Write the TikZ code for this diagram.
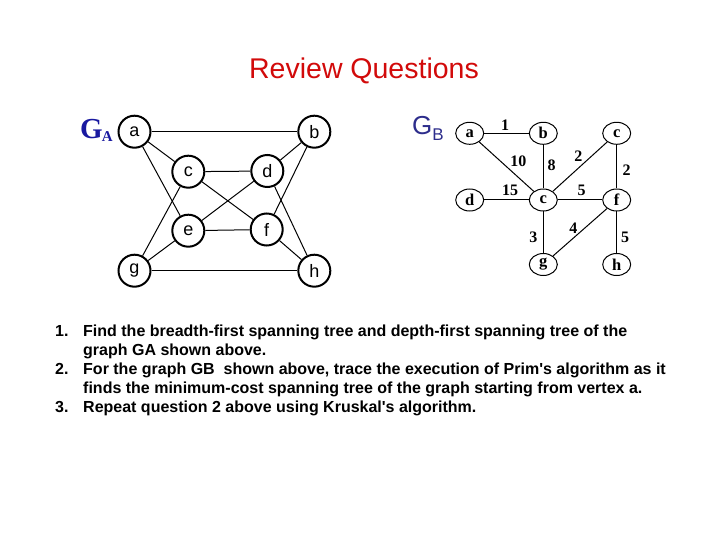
\documentclass[tikz,border=0pt]{standalone}
\usepackage{fontspec}
\setmainfont{Liberation Sans}
\newfontfamily\serifb{Liberation Serif}
\newfontfamily\bodyfont{Liberation Sans}
\usetikzlibrary{shapes.geometric}
\definecolor{titlered}{RGB}{210,10,10}
\definecolor{gablue}{RGB}{25,25,160}
\definecolor{gbblue}{RGB}{45,45,140}
\begin{document}
\begin{tikzpicture}[x=1pt,y=-1pt,
  ga/.style={circle,draw,line width=2pt,minimum size=32pt,inner sep=0pt,font=\fontsize{18}{18}\selectfont},
  gb/.style={ellipse,draw,line width=1pt,minimum width=28pt,minimum height=22pt,inner sep=0pt,font=\serifb\bfseries\fontsize{16.5}{16.5}\selectfont},
  wt/.style={font=\serifb\bfseries\fontsize{16}{16}\selectfont,inner sep=0pt},
  gaedge/.style={line width=1pt},
  gbedge/.style={line width=1pt},
  body/.style={anchor=base west,inner sep=0pt,font=\bodyfont\bfseries\fontsize{16}{19}\selectfont}]
\useasboundingbox (0,0) rectangle (720,540);
\fill[white] (0,0) rectangle (720,540);

% title
\node[anchor=base,inner sep=0pt,text=titlered,font=\fontsize{28.5}{30}\selectfont] (title) at (364,79) {Review Questions};

% graph GA
\node[anchor=base west,inner sep=0pt,text=gablue,font=\serifb\bfseries\fontsize{29}{29}\selectfont] (galabel) at (80,139) {G\kern-1pt\raisebox{-3pt}{\fontsize{15}{15}\selectfont A}};
\node[ga] (a) at (134.5,131.7) {a};
\node[ga] (b) at (314.3,131.7) {b};
\node[ga] (c) at (188.3,171.7) {c};
\node[ga] (d) at (267.3,171) {d};
\node[ga] (e) at (188.3,230.7) {e};
\node[ga] (f) at (266.7,229.5) {f};
\node[ga] (g) at (134.5,270.7) {g};
\node[ga] (h) at (314.3,270.7) {h};
\draw[gaedge] (a) -- (b);
\draw[gaedge] (a) -- (c);
\draw[gaedge] (a) -- (e);
\draw[gaedge] (b) -- (d);
\draw[gaedge] (b) -- (f);
\draw[gaedge] (c) -- (d);
\draw[gaedge] (c) -- (f);
\draw[gaedge] (c) -- (g);
\draw[gaedge] (d) -- (e);
\draw[gaedge] (d) -- (h);
\draw[gaedge] (e) -- (f);
\draw[gaedge] (e) -- (g);
\draw[gaedge] (f) -- (h);
\draw[gaedge] (g) -- (h);

% graph GB
\node[anchor=base west,inner sep=0pt,text=gbblue,font=\fontsize{26}{26}\selectfont] (gblabel) at (412,135) {G\raisebox{-6pt}{\fontsize{17}{17}\selectfont B}};
\node[gb] (ba) at (469.7,133.3) {a};
\node[gb] (bb) at (543.3,133.3) {b};
\node[gb] (bc1) at (616.7,133.3) {c};
\node[gb] (bd) at (469.7,200) {d};
\node[gb] (bc) at (543.3,200) {c};
\node[gb] (bf) at (616.7,200) {f};
\node[gb] (bg) at (543.3,264.5) {g};
\node[gb] (bh) at (616.7,264.5) {h};
\draw[gbedge] (ba) -- (bb);
\draw[gbedge] (ba) -- (bc);
\draw[gbedge] (bb) -- (bc);
\draw[gbedge] (bc1) -- (bc);
\draw[gbedge] (bc1) -- (bf);
\draw[gbedge] (bd) -- (bc);
\draw[gbedge] (bc) -- (bf);
\draw[gbedge] (bc) -- (bg);
\draw[gbedge] (bf) -- (bg);
\draw[gbedge] (bf) -- (bh);
\node[wt] (w1) at (505,125) {1};
\node[wt] (w10) at (518.3,161.7) {10};
\node[wt] (w8) at (551.7,165) {8};
\node[wt] (w2a) at (578.3,156.7) {2};
\node[wt] (w2b) at (626.7,170) {2};
\node[wt] (w15) at (510,190) {15};
\node[wt] (w5a) at (581.7,190) {5};
\node[wt] (w3) at (533.3,237) {3};
\node[wt] (w4) at (573.3,228.3) {4};
\node[wt] (w5b) at (625,237) {5};

% questions
\node[body] (n1) at (55,336.5) {1.};
\node[body] (t1) at (83,336.5) {Find the breadth-first spanning tree and depth-first spanning tree of the};
\node[body] (t1b) at (83,355.5) {graph GA shown above.};
\node[body] (n2) at (55,374.5) {2.};
\node[body] (t2) at (83,374.5) {For the graph GB\ \ shown above, trace the execution of Prim's algorithm as it};
\node[body] (t2b) at (83,393.5) {finds the minimum-cost spanning tree of the graph starting from vertex a.};
\node[body] (n3) at (55,412.5) {3.};
\node[body] (t3) at (83,412.5) {Repeat question 2 above using Kruskal's algorithm.};
\end{tikzpicture}
\end{document}
